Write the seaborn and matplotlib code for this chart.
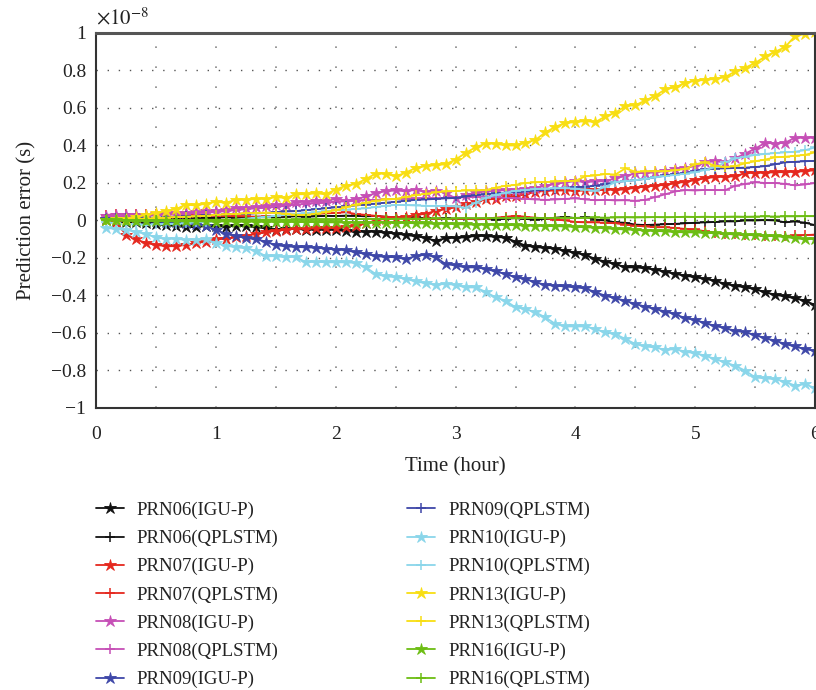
import matplotlib
matplotlib.use("Agg")
import matplotlib.pyplot as plt
import seaborn as sns
import numpy as np
import pandas as pd
from matplotlib.ticker import MultipleLocator, FuncFormatter

# sample epochs every 5 minutes, in hours
minutes = np.arange(5, 361, 5)
hours = minutes / 60.0

# prediction errors, in units of 1e-8 s
prn06_igu = [0.0, -0.005, -0.01, -0.01, -0.015, -0.02, -0.025, -0.03, -0.035, -0.035, -0.03, -0.03,
             -0.033, -0.028, -0.031, -0.036, -0.042, -0.049, -0.048, -0.045, -0.049, -0.049, -0.05, -0.05,
             -0.057, -0.06, -0.06, -0.06, -0.065, -0.07, -0.077, -0.084, -0.093, -0.108, -0.095, -0.092,
             -0.09, -0.082, -0.083, -0.087, -0.092, -0.113, -0.134, -0.142, -0.146, -0.15, -0.162, -0.172,
             -0.184, -0.205, -0.22, -0.232, -0.25, -0.25, -0.255, -0.262, -0.273, -0.285, -0.294, -0.303,
             -0.312, -0.321, -0.339, -0.348, -0.357, -0.366, -0.383, -0.396, -0.405, -0.415, -0.428, -0.451]
prn06_qp = [0.0, 0.005, 0.005, 0.008, 0.01, 0.01, 0.012, 0.01, 0.012, 0.015, 0.013, 0.015,
            0.017, 0.015, 0.018, 0.02, 0.02, 0.018, 0.02, 0.022, 0.02, 0.022, 0.025, 0.024,
            0.026, 0.025, 0.022, 0.024, 0.02, 0.018, 0.015, 0.017, 0.012, 0.01, 0.012, 0.008,
            0.01, 0.006, 0.008, 0.005, 0.01, 0.012, 0.008, 0.005, 0.01, 0.015, 0.02, 0.012,
            0.018, 0.005, 0.0, -0.01, -0.012, -0.022, -0.024, -0.022, -0.02, -0.018, -0.015, -0.012,
            -0.01, -0.008, -0.005, -0.005, 0.0, 0.0, 0.002, 0.0, -0.01, -0.005, -0.012, -0.025]
prn07_igu = [0.01, -0.01, -0.075, -0.1, -0.12, -0.13, -0.137, -0.137, -0.13, -0.12, -0.113, -0.1,
             -0.098, -0.09, -0.081, -0.072, -0.063, -0.055, -0.05, -0.043, -0.045, -0.042, -0.042, -0.04,
             -0.035, -0.03, -0.015, 0.0, 0.01, 0.015, 0.017, 0.03, 0.035, 0.052, 0.06, 0.07,
             0.088, 0.1, 0.112, 0.115, 0.128, 0.13, 0.14, 0.152, 0.158, 0.16, 0.16, 0.158,
             0.16, 0.16, 0.165, 0.163, 0.166, 0.175, 0.18, 0.186, 0.19, 0.198, 0.207, 0.215,
             0.225, 0.232, 0.233, 0.236, 0.253, 0.254, 0.255, 0.257, 0.258, 0.26, 0.263, 0.268]
prn07_qp = [0.03, 0.032, 0.035, 0.035, 0.034, 0.036, 0.035, 0.033, 0.03, 0.028, 0.027, 0.025,
            0.025, 0.022, 0.022, 0.02, 0.022, 0.025, 0.028, 0.03, 0.032, 0.035, 0.038, 0.04,
            0.044, 0.035, 0.03, 0.025, 0.02, 0.015, 0.012, 0.01, 0.008, 0.008, 0.008, 0.01,
            0.01, 0.008, 0.01, 0.015, 0.02, 0.025, 0.02, 0.015, 0.012, 0.005, 0.0, -0.008,
            -0.01, -0.01, -0.012, -0.015, -0.022, -0.028, -0.032, -0.036, -0.036, -0.04, -0.045, -0.048,
            -0.058, -0.065, -0.072, -0.074, -0.077, -0.079, -0.081, -0.083, -0.082, -0.08, -0.078, -0.075]
prn08_igu = [0.025, 0.03, 0.03, 0.03, 0.03, 0.035, 0.035, 0.04, 0.04, 0.045, 0.05, 0.052,
             0.058, 0.065, 0.065, 0.07, 0.078, 0.08, 0.085, 0.097, 0.1, 0.102, 0.105, 0.115,
             0.105, 0.113, 0.128, 0.146, 0.156, 0.16, 0.156, 0.163, 0.152, 0.158, 0.147, 0.118,
             0.135, 0.148, 0.155, 0.158, 0.162, 0.165, 0.17, 0.175, 0.185, 0.195, 0.203, 0.21,
             0.205, 0.208, 0.21, 0.225, 0.237, 0.252, 0.254, 0.256, 0.265, 0.275, 0.281, 0.29,
             0.31, 0.316, 0.31, 0.332, 0.357, 0.383, 0.415, 0.41, 0.415, 0.442, 0.44, 0.442]
prn08_qp = [0.02, 0.02, 0.022, 0.025, 0.025, 0.028, 0.03, 0.032, 0.035, 0.04, 0.042, 0.045,
            0.05, 0.055, 0.06, 0.065, 0.068, 0.072, 0.078, 0.085, 0.088, 0.092, 0.095, 0.1,
            0.102, 0.105, 0.108, 0.11, 0.112, 0.115, 0.117, 0.118, 0.12, 0.118, 0.12, 0.122,
            0.124, 0.125, 0.124, 0.125, 0.12, 0.118, 0.115, 0.112, 0.11, 0.112, 0.115, 0.118,
            0.112, 0.108, 0.11, 0.107, 0.108, 0.105, 0.11, 0.125, 0.14, 0.155, 0.162, 0.16,
            0.163, 0.162, 0.162, 0.185, 0.195, 0.204, 0.2, 0.2, 0.195, 0.187, 0.192, 0.2]
prn09_igu = [0.01, 0.01, 0.0, 0.0, -0.005, -0.005, -0.01, -0.01, -0.015, -0.02, -0.028, -0.049,
             -0.072, -0.081, -0.095, -0.099, -0.113, -0.131, -0.138, -0.141, -0.143, -0.145, -0.15, -0.155,
             -0.158, -0.17, -0.178, -0.19, -0.194, -0.196, -0.206, -0.19, -0.182, -0.196, -0.232, -0.24,
             -0.25, -0.25, -0.258, -0.272, -0.285, -0.303, -0.312, -0.33, -0.343, -0.348, -0.352, -0.357,
             -0.362, -0.383, -0.401, -0.415, -0.428, -0.446, -0.459, -0.472, -0.486, -0.499, -0.522, -0.53,
             -0.548, -0.562, -0.575, -0.588, -0.597, -0.61, -0.628, -0.641, -0.659, -0.672, -0.686, -0.695]
prn09_qp = [0.01, 0.012, 0.012, 0.014, 0.015, 0.015, 0.018, 0.02, 0.022, 0.025, 0.028, 0.03,
            0.032, 0.035, 0.035, 0.038, 0.04, 0.045, 0.048, 0.05, 0.055, 0.06, 0.065, 0.07,
            0.075, 0.08, 0.085, 0.09, 0.095, 0.1, 0.105, 0.11, 0.112, 0.115, 0.118, 0.12,
            0.128, 0.135, 0.14, 0.145, 0.148, 0.15, 0.155, 0.16, 0.165, 0.17, 0.175, 0.178,
            0.18, 0.185, 0.195, 0.204, 0.21, 0.215, 0.222, 0.23, 0.24, 0.248, 0.253, 0.265,
            0.275, 0.277, 0.278, 0.28, 0.282, 0.285, 0.29, 0.3, 0.31, 0.313, 0.316, 0.318]
prn10_igu = [-0.04, -0.045, -0.05, -0.06, -0.072, -0.09, -0.099, -0.097, -0.104, -0.102, -0.1, -0.12,
             -0.134, -0.143, -0.148, -0.161, -0.191, -0.19, -0.197, -0.193, -0.223, -0.22, -0.223, -0.223,
             -0.223, -0.226, -0.25, -0.285, -0.298, -0.302, -0.311, -0.325, -0.334, -0.343, -0.338, -0.343,
             -0.357, -0.357, -0.38, -0.41, -0.428, -0.463, -0.472, -0.49, -0.517, -0.552, -0.565, -0.565,
             -0.565, -0.579, -0.597, -0.606, -0.632, -0.659, -0.672, -0.677, -0.69, -0.686, -0.7, -0.708,
             -0.721, -0.739, -0.757, -0.775, -0.801, -0.837, -0.842, -0.846, -0.86, -0.881, -0.872, -0.895]
prn10_qp = [-0.01, -0.015, -0.02, -0.02, -0.022, -0.02, -0.018, -0.018, -0.015, -0.01, -0.008, -0.005,
            0.0, 0.005, 0.01, 0.015, 0.02, 0.025, 0.03, 0.035, 0.04, 0.045, 0.05, 0.055,
            0.058, 0.062, 0.065, 0.072, 0.078, 0.083, 0.082, 0.08, 0.078, 0.078, 0.077, 0.075,
            0.068, 0.095, 0.12, 0.136, 0.148, 0.159, 0.162, 0.168, 0.17, 0.172, 0.172, 0.17,
            0.165, 0.159, 0.18, 0.204, 0.21, 0.215, 0.222, 0.23, 0.237, 0.243, 0.25, 0.257,
            0.27, 0.284, 0.31, 0.331, 0.34, 0.35, 0.355, 0.36, 0.363, 0.367, 0.375, 0.39]
prn13_igu = [0.0, 0.01, 0.01, 0.02, 0.03, 0.04, 0.05, 0.06, 0.085, 0.08, 0.09, 0.1,
             0.095, 0.11, 0.11, 0.115, 0.115, 0.125, 0.12, 0.14, 0.14, 0.145, 0.14, 0.165,
             0.185, 0.195, 0.22, 0.25, 0.25, 0.235, 0.255, 0.28, 0.29, 0.295, 0.3, 0.325,
             0.36, 0.39, 0.41, 0.41, 0.4, 0.4, 0.415, 0.43, 0.47, 0.5, 0.52, 0.525,
             0.53, 0.525, 0.555, 0.575, 0.61, 0.615, 0.64, 0.665, 0.7, 0.71, 0.735, 0.745,
             0.75, 0.755, 0.765, 0.795, 0.815, 0.84, 0.875, 0.9, 0.925, 0.985, 0.995, 1.005]
prn13_qp = [0.0, 0.002, 0.005, 0.008, 0.01, 0.012, 0.015, 0.018, 0.02, 0.022, 0.025, 0.03,
            0.032, 0.035, 0.038, 0.04, 0.042, 0.04, 0.035, 0.03, 0.03, 0.035, 0.045, 0.055,
            0.07, 0.085, 0.095, 0.105, 0.112, 0.115, 0.125, 0.135, 0.142, 0.15, 0.155, 0.157,
            0.16, 0.16, 0.162, 0.175, 0.185, 0.19, 0.2, 0.204, 0.205, 0.208, 0.21, 0.212,
            0.236, 0.24, 0.248, 0.245, 0.278, 0.26, 0.262, 0.262, 0.262, 0.268, 0.275, 0.3,
            0.31, 0.292, 0.285, 0.29, 0.305, 0.316, 0.325, 0.337, 0.34, 0.345, 0.35, 0.364]
prn16_igu = [0.0, 0.0, -0.002, -0.003, -0.002, -0.004, -0.003, -0.005, -0.004, -0.005, -0.004, -0.006,
             -0.005, -0.006, -0.007, -0.006, -0.008, -0.007, -0.008, -0.008, -0.009, -0.008, -0.01, -0.01,
             -0.011, -0.012, -0.012, -0.013, -0.012, -0.014, -0.013, -0.015, -0.016, -0.018, -0.017, -0.02,
             -0.021, -0.022, -0.022, -0.024, -0.024, -0.025, -0.027, -0.028, -0.03, -0.03, -0.032, -0.034,
             -0.036, -0.038, -0.042, -0.045, -0.048, -0.05, -0.054, -0.056, -0.058, -0.062, -0.063, -0.064,
             -0.066, -0.068, -0.071, -0.074, -0.076, -0.079, -0.081, -0.084, -0.088, -0.095, -0.1, -0.098]
prn16_qp = [0.0, 0.0, 0.001, 0.0, 0.002, 0.001, 0.002, 0.003, 0.002, 0.003, 0.004, 0.003,
            0.004, 0.004, 0.005, 0.004, 0.005, 0.006, 0.005, 0.006, 0.006, 0.007, 0.006, 0.007,
            0.008, 0.007, 0.008, 0.009, 0.008, 0.009, 0.01, 0.009, 0.01, 0.011, 0.01, 0.011,
            0.012, 0.011, 0.012, 0.012, 0.013, 0.012, 0.013, 0.014, 0.013, 0.014, 0.015, 0.014,
            0.015, 0.016, 0.015, 0.016, 0.017, 0.016, 0.017, 0.018, 0.017, 0.018, 0.02, 0.019,
            0.02, 0.019, 0.02, 0.021, 0.02, 0.021, 0.022, 0.021, 0.022, 0.022, 0.023, 0.023]

satellites = ["PRN06", "PRN07", "PRN08", "PRN09", "PRN10", "PRN13", "PRN16"]
sat_colors = ["#111111", "#e5281e", "#c64fb6", "#3e47a8", "#8ad6ea", "#f8de12", "#6cbd12"]
igu_series = [prn06_igu, prn07_igu, prn08_igu, prn09_igu, prn10_igu, prn13_igu, prn16_igu]
qp_series = [prn06_qp, prn07_qp, prn08_qp, prn09_qp, prn10_qp, prn13_qp, prn16_qp]

sns.set_style("white")
plt.rcParams["font.family"] = ["Liberation Serif", "DejaVu Serif"]
plt.rcParams["mathtext.fontset"] = "stix"
plt.rcParams["axes.unicode_minus"] = True

fig = plt.figure(figsize=(8.16, 6.9), dpi=100)
ax = fig.add_axes([0.1176, 0.4087, 0.8814, 0.5435])

handles = []
labels = []
for sat, color, igu, qp in zip(satellites, sat_colors, igu_series, qp_series):
    sns.lineplot(x=hours, y=igu, ax=ax, color=color, marker="*", markersize=9,
                 markeredgecolor=color, markeredgewidth=0.6, linewidth=1.3)
    handles.append(ax.lines[-1])
    labels.append(f"{sat}(IGU-P)")
    sns.lineplot(x=hours, y=qp, ax=ax, color=color, marker="+", markersize=7,
                 markeredgecolor=color, markeredgewidth=1.1, linewidth=1.3)
    handles.append(ax.lines[-1])
    labels.append(f"{sat}(QPLSTM)")

ax.set_xlim(0, 6)
ax.set_ylim(-1, 1)
ax.xaxis.set_major_locator(MultipleLocator(1))
ax.xaxis.set_minor_locator(MultipleLocator(0.5))
ax.yaxis.set_major_locator(MultipleLocator(0.2))
ax.yaxis.set_major_formatter(FuncFormatter(lambda v, p: f"{v:g}".replace("-", "\u2212") if abs(v) > 1e-9 else "0"))

ax.grid(True, which="both", axis="x", color="#888888", linestyle=(0, (1, 11)), linewidth=1.2)
ax.grid(True, which="major", axis="y", color="#555555", linestyle=(0, (1, 7)), linewidth=1.0)

for side in ["left", "bottom", "top", "right"]:
    ax.spines[side].set_visible(True)
    ax.spines[side].set_color("#333333")
    ax.spines[side].set_linewidth(1.5)
ax.spines["top"].set_linewidth(2.2)
ax.spines["top"].set_color("#555555")

ax.tick_params(axis="both", which="both", direction="out", length=5, width=1.2,
               color="#333333", labelsize=14, labelcolor="#222222")
ax.tick_params(axis="x", which="both", pad=8)
ax.tick_params(axis="y", which="both", pad=2)

ax.set_xlabel("Time (hour)", fontsize=15, color="#222222", labelpad=10)
ax.set_ylabel("Prediction error (s)", fontsize=15, color="#222222", labelpad=10)
ax.text(0.0, 1.01, r"$\times10^{-8}$", transform=ax.transAxes, fontsize=15,
        color="#222222", ha="left", va="bottom")

ax.legend(handles, labels, ncol=2, loc="upper left", bbox_to_anchor=(-0.024, -0.205),
          frameon=False, fontsize=13.5, handlelength=1.5, handletextpad=0.7,
          columnspacing=6.85, labelspacing=0.58, labelcolor="#222222")

fig.savefig("out.png", dpi=100)
